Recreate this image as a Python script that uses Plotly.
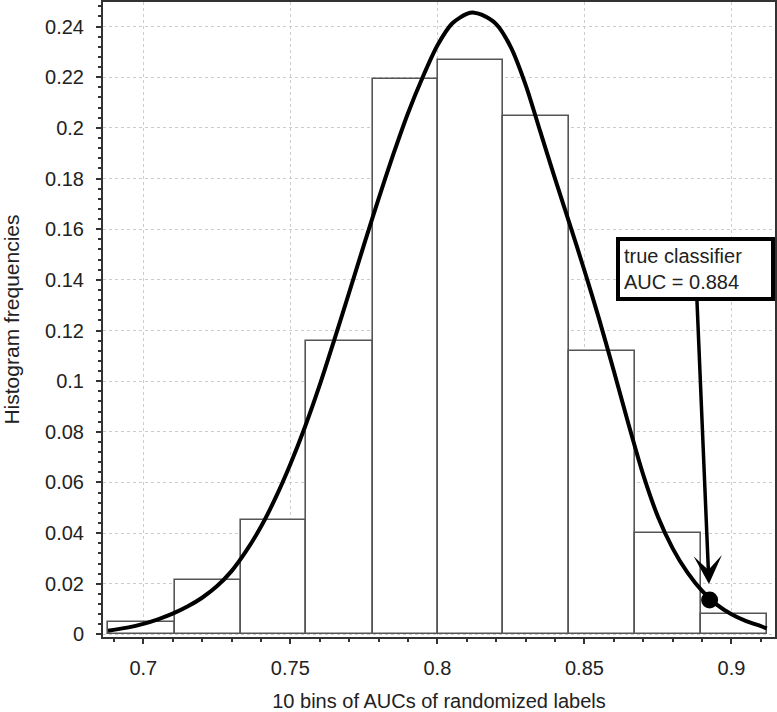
import plotly.graph_objects as go

# ---- data ----
bin_edges = [0.68807, 0.71063, 0.73313, 0.75545, 0.77795, 0.80010,
             0.82243, 0.84475, 0.86725, 0.88974, 0.91224]
bin_freq = [0.0048, 0.0215, 0.0452, 0.1160, 0.2193, 0.2267, 0.2047, 0.1120, 0.0400, 0.0080]

curve_x = [0.688, 0.695, 0.700, 0.705, 0.710, 0.715, 0.720, 0.725, 0.730, 0.735,
           0.740, 0.745, 0.750, 0.755, 0.760, 0.765, 0.770, 0.775, 0.780, 0.785,
           0.790, 0.795, 0.800, 0.805, 0.810, 0.8125, 0.815, 0.820, 0.825, 0.830,
           0.835, 0.840, 0.845, 0.850, 0.855, 0.860, 0.865, 0.870, 0.875, 0.880,
           0.885, 0.890, 0.895, 0.900, 0.905, 0.910, 0.912]
curve_y = [0.0015, 0.0028, 0.0042, 0.0060, 0.0082, 0.0110, 0.0145, 0.0190, 0.0250, 0.0330,
           0.0425, 0.0540, 0.0672, 0.0820, 0.0985, 0.1165, 0.1350, 0.1537, 0.1720, 0.1895,
           0.2058, 0.2200, 0.2325, 0.2412, 0.2450, 0.2455, 0.2447, 0.2410, 0.2318, 0.2170,
           0.1985, 0.1800, 0.1620, 0.1437, 0.1245, 0.1040, 0.0830, 0.0630, 0.0465, 0.0340,
           0.0245, 0.0172, 0.0118, 0.0080, 0.0053, 0.0033, 0.0024]

dot_x = 0.89257
dot_y = 0.0136
annot_text = "true classifier<br>AUC = 0.884"

x_tick_vals = [0.7, 0.75, 0.8, 0.85, 0.9]
x_tick_text = ["0.7", "0.75", "0.8", "0.85", "0.9"]
y_tick_vals = [0, 0.02, 0.04, 0.06, 0.08, 0.1, 0.12, 0.14, 0.16, 0.18, 0.2, 0.22, 0.24]
y_tick_text = ["0", "0.02", "0.04", "0.06", "0.08", "0.1", "0.12", "0.14",
               "0.16", "0.18", "0.2", "0.22", "0.24"]

x_title = "10 bins of AUCs of randomized labels"
y_title = "Histogram frequencies"

# ---- derived for the library ----
centers = [(a + b) / 2 for a, b in zip(bin_edges[:-1], bin_edges[1:])]
widths = [b - a for a, b in zip(bin_edges[:-1], bin_edges[1:])]

FONT = "Liberation Sans, Arial, sans-serif"
TXT = "#222222"

fig = go.Figure()
fig.add_trace(go.Bar(
    x=centers, y=bin_freq, width=widths,
    marker=dict(color="white", line=dict(color="#555555", width=1.6)),
    hoverinfo="skip", showlegend=False,
))
fig.add_trace(go.Scatter(
    x=curve_x, y=curve_y, mode="lines",
    line=dict(color="black", width=4, shape="spline", smoothing=0.8),
    showlegend=False,
))
fig.add_trace(go.Scatter(
    x=[dot_x], y=[dot_y], mode="markers",
    marker=dict(size=17, color="black"), showlegend=False,
))

fig.add_annotation(
    x=dot_x, y=dot_y, xref="x", yref="y",
    ax=-14, ay=-331,
    text=annot_text, align="left", width=143,
    font=dict(family=FONT, size=20, color=TXT),
    bgcolor="white", bordercolor="black", borderwidth=4, borderpad=4,
    showarrow=True, arrowhead=3, arrowsize=1.35, arrowwidth=3.5,
    arrowcolor="black", standoff=16,
)

axis_common = dict(
    showline=True, linecolor="#333333", linewidth=2, mirror=True,
    ticks="outside", ticklen=5, tickcolor="#333333", tickwidth=1.5,
    showgrid=True, gridcolor="#cccccc", griddash="dot", gridwidth=1,
    zeroline=False, automargin=False,
    tickfont=dict(family=FONT, size=20, color=TXT),
)

fig.update_xaxes(
    range=[0.6863, 0.9148],
    tickmode="array", tickvals=x_tick_vals, ticktext=x_tick_text,
    minor=dict(ticks="outside", ticklen=3, dtick=0.01, tick0=0.7,
               tickcolor="#333333", showgrid=False),
    title=dict(text=x_title, font=dict(family=FONT, size=20, color=TXT), standoff=19),
    ticklabelstandoff=7,
    **axis_common,
)
fig.update_yaxes(
    range=[-0.001, 0.2497],
    tickmode="array", tickvals=y_tick_vals, ticktext=y_tick_text,
    minor=dict(ticks="outside", ticklen=3, dtick=0.004, tick0=0,
               tickcolor="#333333", showgrid=False),
    title=dict(text=y_title, font=dict(family=FONT, size=21, color=TXT), standoff=20),
    ticklabelstandoff=8,
    **axis_common,
)

fig.update_layout(
    width=777, height=712,
    margin=dict(l=103, r=2, t=2, b=75),
    plot_bgcolor="white", paper_bgcolor="white",
    bargap=0, showlegend=False,
)

fig.write_html("out.html",
               config={"displayModeBar": False},
               post_script="document.body.style.margin='0';document.body.style.padding='0';")
